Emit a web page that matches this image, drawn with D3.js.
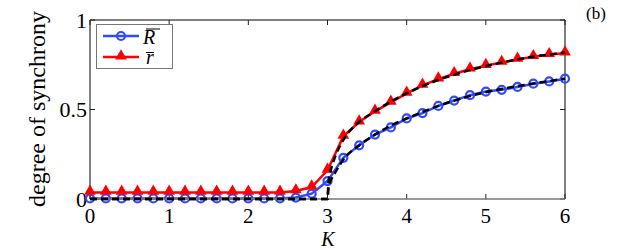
<!DOCTYPE html>
<html><head><meta charset="utf-8">
<script src="https://cdn.jsdelivr.net/npm/d3@7"></script>
<style>body{margin:0;background:#fff}svg{display:block}text{font-family:"Liberation Serif","Times New Roman","DejaVu Serif",serif}</style>
</head><body>
<script>
const K = [0,0.2,0.4,0.6,0.8,1.0,1.2,1.4,1.6,1.8,2.0,2.2,2.4,2.6,2.8,3.0,3.2,3.4,3.6,3.8,4.0,4.2,4.4,4.6,4.8,5.0,5.2,5.4,5.6,5.8,6.0];
const Rvals = [0.003,0.003,0.003,0.003,0.003,0.003,0.003,0.003,0.003,0.003,0.003,0.003,0.003,0.008,0.03,0.10,0.23,0.30,0.36,0.40,0.45,0.48,0.52,0.55,0.58,0.60,0.61,0.626,0.644,0.657,0.672];
const rvals = [0.037,0.037,0.037,0.037,0.037,0.037,0.037,0.037,0.037,0.037,0.037,0.037,0.037,0.045,0.067,0.16,0.35,0.43,0.49,0.54,0.59,0.635,0.67,0.70,0.725,0.745,0.763,0.78,0.795,0.806,0.815];
const thK = [0,3.0,3.01,3.03,3.06,3.1,3.2,3.4,3.6,3.8,4.0,4.4,4.8,5.2,5.6,6.0];
const thR = [0,0,0.05,0.09,0.12,0.15,0.22,0.30,0.36,0.41,0.45,0.52,0.575,0.615,0.645,0.672];
const thr = [0,0,0.08,0.14,0.19,0.24,0.33,0.43,0.49,0.545,0.59,0.665,0.72,0.762,0.795,0.818];
const xTicks = [0,1,2,3,4,5,6];
const yTicks = [0,0.5,1];
const yTickLabels = ["0","0.5","1"];

const W=623,H=250;
const svg=d3.select("body").append("svg").attr("width",W).attr("height",H);
const x=d3.scaleLinear().domain([0,6]).range([90,565]);
const y=d3.scaleLinear().domain([0,1]).range([199,20]);
const blue="#2f4bff", red="#ff0000";

// frame
svg.append("line").attr("x1",x(0)).attr("x2",x(6)).attr("y1",y(1)).attr("y2",y(1)).attr("stroke","#000").attr("stroke-width",1);
svg.append("line").attr("x1",x(6)).attr("x2",x(6)).attr("y1",y(0)).attr("y2",y(1)).attr("stroke","#000").attr("stroke-width",1);
svg.append("line").attr("x1",x(0)).attr("x2",x(0)).attr("y1",y(0)).attr("y2",y(1)).attr("stroke","#000").attr("stroke-width",1);

// ticks
const tl=5;
xTicks.forEach(t=>{
  svg.append("line").attr("x1",x(t)).attr("x2",x(t)).attr("y1",y(0)).attr("y2",y(0)-tl).attr("stroke","#222");
  svg.append("line").attr("x1",x(t)).attr("x2",x(t)).attr("y1",y(1)).attr("y2",y(1)+tl).attr("stroke","#222");
  svg.append("text").attr("x",x(t)).attr("y",223).attr("text-anchor","middle")
    .attr("font-size",21).text(t);
});
yTicks.forEach((t,i)=>{
  svg.append("line").attr("x1",x(0)).attr("x2",x(0)+tl).attr("y1",y(t)).attr("y2",y(t)).attr("stroke","#222");
  svg.append("line").attr("x1",x(6)).attr("x2",x(6)-tl).attr("y1",y(t)).attr("y2",y(t)).attr("stroke","#222");
  svg.append("text").attr("x",87).attr("y",y(t)+7.5).attr("text-anchor","end")
    .attr("font-size",22).text(yTickLabels[i]);
});

// lines
const line=d3.line().x(d=>x(d[0])).y(d=>y(d[1]));
const Rd=K.map((k,i)=>[k,Rvals[i]]), rd=K.map((k,i)=>[k,rvals[i]]);
svg.append("path").attr("d",line(Rd)).attr("fill","none").attr("stroke",blue).attr("stroke-width",2.5);
svg.append("path").attr("d",line(rd)).attr("fill","none").attr("stroke",red).attr("stroke-width",2.5);
svg.selectAll("circle.m").data(Rd).enter().append("circle").attr("cx",d=>x(d[0])).attr("cy",d=>y(d[1]))
  .attr("r",4).attr("fill","none").attr("stroke",blue).attr("stroke-width",2.2);
const tri=d3.symbol().type(d3.symbolTriangle).size(60);
svg.selectAll("path.t").data(rd).enter().append("path").attr("d",tri)
  .attr("transform",d=>`translate(${x(d[0])},${y(d[1])-1})`).attr("fill",red);

// bottom axis
svg.append("line").attr("x1",x(0)).attr("x2",x(6)).attr("y1",y(0)).attr("y2",y(0)).attr("stroke","#777").attr("stroke-width",1.5);

// theory dashed
const tline=d3.line().x(d=>x(d[0])).y(d=>y(d[1])).curve(d3.curveMonotoneX);
[thR,thr].forEach(arr=>{
  svg.append("path").attr("d",tline(thK.map((k,i)=>[k,arr[i]]))).attr("fill","none")
    .attr("stroke","#000").attr("stroke-width",2.5).attr("stroke-dasharray","7,4");
});

// legend
svg.append("rect").attr("x",96.5).attr("y",24.5).attr("width",76).attr("height",44)
  .attr("fill","#fff").attr("stroke","#777").attr("stroke-width",1);
svg.append("line").attr("x1",103).attr("x2",139).attr("y1",36).attr("y2",36).attr("stroke",blue).attr("stroke-width",2.5);
svg.append("circle").attr("cx",121).attr("cy",36).attr("r",4).attr("fill","none").attr("stroke",blue).attr("stroke-width",2.2);
svg.append("line").attr("x1",103).attr("x2",139).attr("y1",57).attr("y2",57).attr("stroke",red).attr("stroke-width",2.5);
svg.append("path").attr("d",tri).attr("transform","translate(121,56)").attr("fill",red);
svg.append("text").attr("x",143).attr("y",44).attr("font-style","italic").attr("font-size",20).text("R");
svg.append("line").attr("x1",146).attr("x2",160).attr("y1",29).attr("y2",29).attr("stroke","#000").attr("stroke-width",1);
svg.append("text").attr("x",146).attr("y",64).attr("font-style","italic").attr("font-size",20).text("r");
svg.append("line").attr("x1",146).attr("x2",154).attr("y1",52.5).attr("y2",52.5).attr("stroke","#000").attr("stroke-width",1);

// axis titles
svg.append("text").attr("x",328).attr("y",245.5).attr("text-anchor","middle")
  .attr("font-style","italic").attr("font-size",20).text("K");
svg.append("text").attr("transform","translate(45,109) rotate(-90)").attr("text-anchor","middle")
  .attr("font-size",24).text("degree of synchrony");
svg.append("text").attr("x",586).attr("y",19).attr("font-size",17).text("(b)");
</script>
</body></html>
